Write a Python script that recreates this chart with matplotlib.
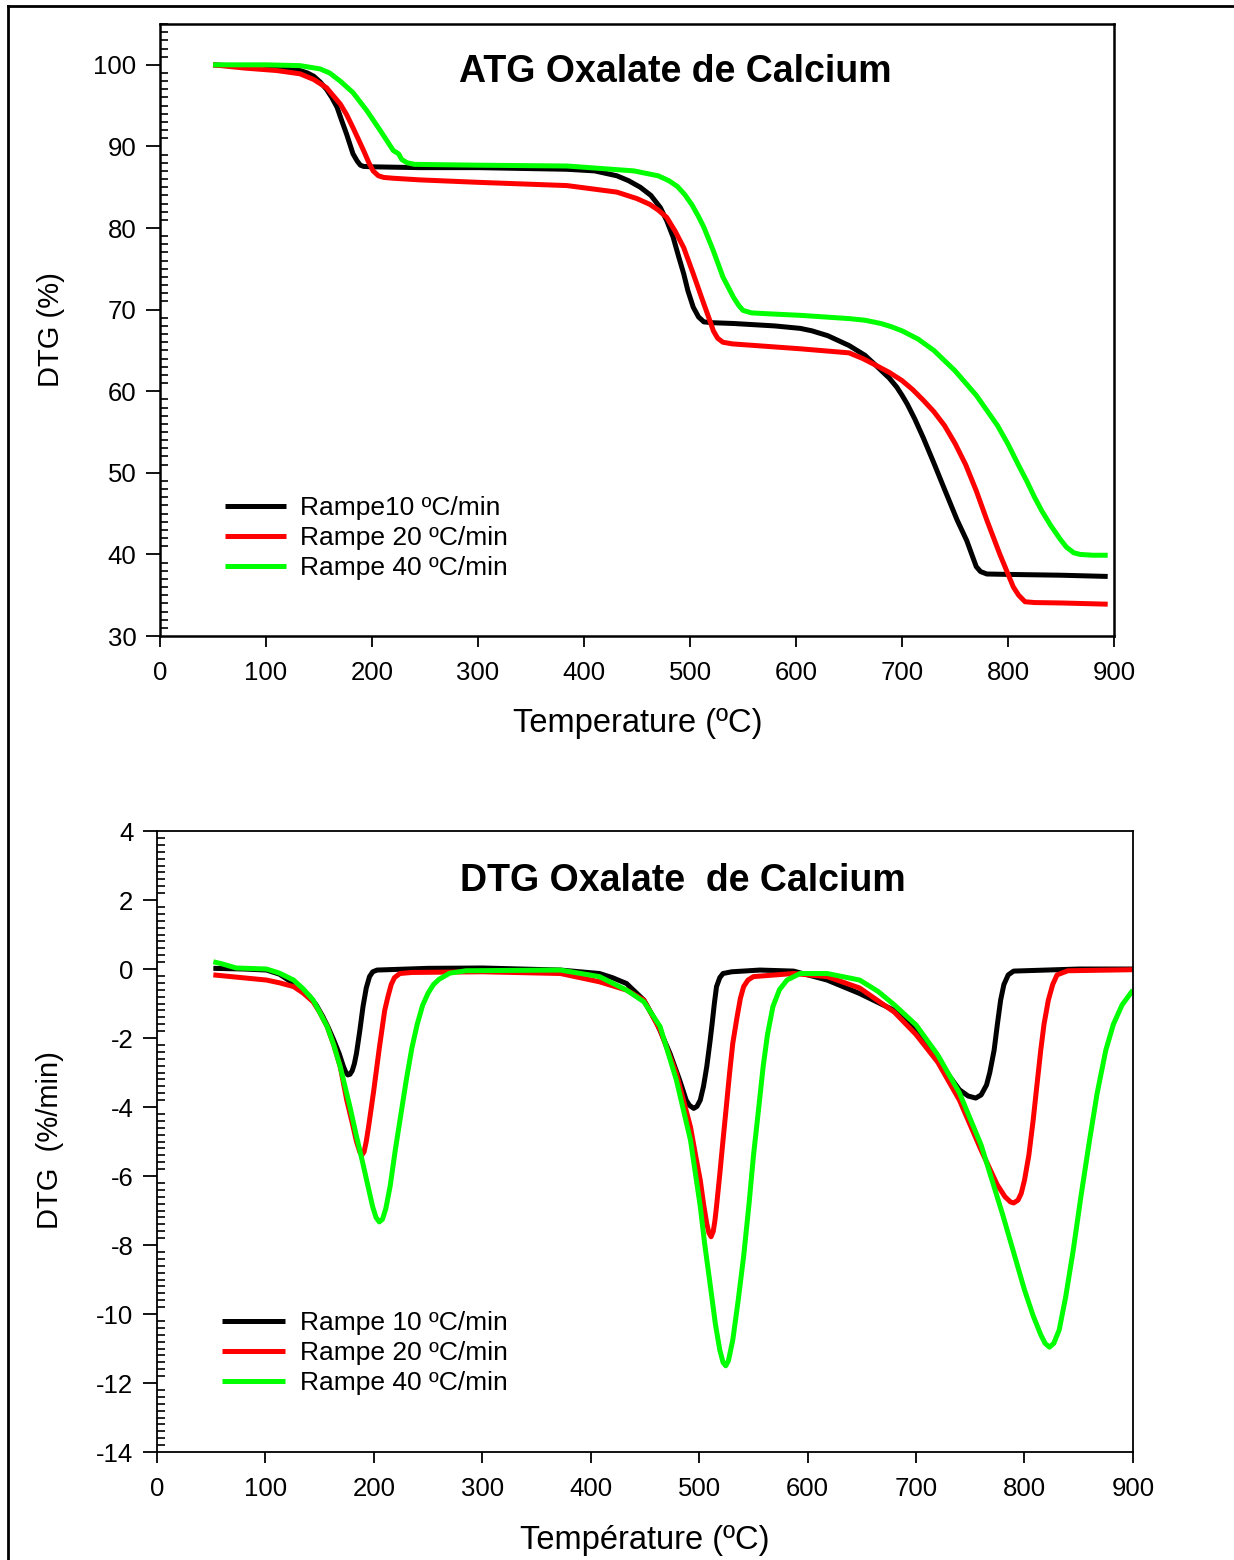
"""
ATG / DTG de l'oxalate de calcium à trois vitesses de chauffe
(valeurs relevées sur la figure d'origine)
"""

import numpy as np
import matplotlib.pyplot as plt
from matplotlib.lines import Line2D
from matplotlib.ticker import MultipleLocator

plt.rcParams['font.family'] = ['Liberation Sans', 'DejaVu Sans']
plt.rcParams['axes.unicode_minus'] = False

# ============================================================
# 0. Données ATG (%)
# ============================================================
atg_t10 = [50, 80, 110, 120, 132, 139, 145, 151, 157, 162, 167, 171, 176, 182, 186,
           189, 192, 200, 245, 300, 384, 410, 431, 442, 453, 463, 472, 478, 484, 489,
           494, 498, 503, 508, 513, 520, 541, 580, 604, 615, 630, 650, 665, 675, 688,
           695, 700, 705, 712, 720, 730, 740, 752, 761, 770, 774, 780, 800, 850, 894]
atg_v10 = [100, 99.8, 99.6, 99.5, 99.3, 99.0, 98.6, 97.9, 97.0, 96.0, 94.8, 93.3, 91.5,
           89.1, 88.2, 87.7, 87.55, 87.5, 87.4, 87.4, 87.2, 87.0, 86.4, 85.8, 85.0,
           84.0, 82.5, 80.9, 78.9, 76.6, 74.4, 72.3, 70.3, 69.1, 68.5, 68.4, 68.3,
           68.0, 67.7, 67.4, 66.8, 65.6, 64.4, 63.2, 61.6, 60.5, 59.5, 58.4, 56.6,
           54.3, 51.2, 48.0, 44.2, 41.7, 38.5, 37.9, 37.6, 37.55, 37.45, 37.3]

atg_t20 = [50, 80, 110, 132, 145, 157, 170, 176, 182, 187, 192, 197, 201, 206, 211,
           220, 245, 300, 384, 431, 450, 462, 470, 478, 486, 494, 503, 513, 518, 522,
           526, 531, 540, 604, 650, 663, 675, 688, 700, 710, 720, 730, 740, 750, 760,
           770, 780, 792, 805, 810, 816, 825, 850, 894]
atg_v20 = [100, 99.6, 99.3, 98.9, 98.2, 97.2, 95.2, 93.9, 92.3, 90.9, 89.5, 88.0, 87.0,
           86.4, 86.2, 86.1, 85.9, 85.6, 85.2, 84.4, 83.6, 82.9, 82.2, 81.3, 79.6,
           77.6, 74.4, 70.7, 68.9, 67.4, 66.5, 66.0, 65.8, 65.2, 64.7, 64.0, 63.2,
           62.3, 61.3, 60.2, 58.9, 57.5, 55.8, 53.6, 51.0, 47.8, 44.2, 40.1, 36.0,
           35.0, 34.2, 34.1, 34.05, 33.9]

atg_t40 = [50, 100, 132, 151, 160, 170, 182, 195, 208, 220, 225, 228, 233, 240, 300,
           384, 447, 470, 480, 488, 495, 502, 508, 513, 522, 531, 541, 546, 550, 558,
           572, 604, 650, 665, 680, 690, 700, 715, 730, 750, 770, 790, 800, 810, 818,
           825, 832, 840, 849, 855, 862, 868, 880, 894]
atg_v40 = [100, 100, 99.9, 99.5, 99.0, 98.0, 96.6, 94.4, 91.9, 89.5, 89.1, 88.4, 88.0,
           87.8, 87.7, 87.6, 87.0, 86.4, 85.8, 85.1, 84.1, 82.8, 81.4, 80.1, 77.2,
           74.0, 71.5, 70.5, 69.9, 69.6, 69.5, 69.3, 68.9, 68.7, 68.3, 67.9, 67.4,
           66.4, 65.0, 62.5, 59.5, 55.8, 53.5, 50.9, 48.9, 47.0, 45.3, 43.6, 41.9,
           40.9, 40.2, 40.0, 39.9, 39.9]

# ============================================================
# 1. Données DTG (%/min)
# ============================================================
dtg_t10 = [52, 80, 101, 113, 126, 135, 141, 147, 153, 158, 163, 168, 172, 174, 176,
           178, 180, 182, 184, 187, 190, 193, 196, 199, 203, 250, 300, 372, 408, 420,
           433, 449, 461, 473, 482, 488, 491, 495, 498, 501, 504, 507, 510, 512, 514,
           516, 519, 522, 530, 556, 587, 618, 648, 680, 700, 720, 740, 748, 755, 760,
           765, 768, 772, 775, 778, 781, 785, 790, 850, 900]
dtg_v10 = [0.02, 0.0, -0.03, -0.15, -0.42, -0.62, -0.8, -1.05, -1.38, -1.7, -2.06,
           -2.45, -2.83, -2.98, -3.07, -3.05, -2.95, -2.75, -2.44, -1.8, -1.09, -0.55,
           -0.22, -0.08, -0.03, 0.02, 0.03, -0.03, -0.13, -0.25, -0.42, -0.9, -1.57,
           -2.44, -3.22, -3.8, -3.95, -4.04, -3.98, -3.8, -3.4, -2.83, -2.1, -1.57,
           -1.0, -0.51, -0.25, -0.13, -0.08, -0.03, -0.06, -0.32, -0.71, -1.2, -1.77,
           -2.64, -3.5, -3.68, -3.74, -3.65, -3.36, -3.0, -2.35, -1.6, -0.9, -0.45,
           -0.17, -0.06, 0.0, 0.0]

dtg_t20 = [52, 101, 113, 126, 135, 144, 150, 157, 163, 169, 175, 180, 184, 187, 189,
           191, 193, 195, 200, 205, 210, 213, 216, 219, 224, 235, 300, 372, 408, 433,
           449, 464, 479, 492, 497, 501, 504, 507, 509, 511, 513, 514.5, 516, 519,
           522, 525, 528, 531, 535, 538, 541, 545, 550, 587, 618, 648, 680, 700, 720,
           740, 760, 775, 782, 787, 790, 794, 797, 800, 804, 808, 811, 815, 818, 822,
           826, 830, 840, 900]
dtg_v20 = [-0.17, -0.32, -0.4, -0.51, -0.7, -0.95, -1.25, -1.67, -2.2, -2.83, -3.8,
           -4.45, -5.0, -5.3, -5.39, -5.3, -5.0, -4.6, -3.5, -2.3, -1.2, -0.8, -0.45,
           -0.25, -0.13, -0.1, -0.08, -0.13, -0.37, -0.61, -0.9, -1.77, -3.03, -4.58,
           -5.45, -6.12, -6.8, -7.38, -7.65, -7.76, -7.6, -7.3, -6.88, -5.95, -4.96,
           -4.0, -3.03, -2.15, -1.38, -0.85, -0.51, -0.32, -0.22, -0.13, -0.22, -0.55,
           -1.25, -1.9, -2.7, -3.8, -5.25, -6.26, -6.6, -6.75, -6.78, -6.7, -6.5,
           -6.12, -5.4, -4.38, -3.5, -2.35, -1.6, -0.9, -0.45, -0.17, -0.05, -0.02]

dtg_t40 = [52, 60, 73, 101, 113, 126, 135, 144, 150, 157, 163, 169, 178, 184, 190,
           195, 199, 202, 205, 208, 211, 215, 220, 225, 230, 235, 240, 245, 250, 255,
           260, 270, 285, 372, 408, 433, 449, 464, 479, 492, 501, 505, 510, 515, 519,
           522, 524.5, 527, 531, 536, 541, 546, 550, 555, 559, 563, 568, 574, 581,
           593, 618, 648, 665, 680, 700, 720, 740, 760, 780, 800, 808, 815, 819, 823,
           827, 832, 838, 845, 852, 860, 867, 875, 882, 890, 900]
dtg_v40 = [0.21, 0.15, 0.03, 0.0, -0.12, -0.32, -0.58, -0.9, -1.25, -1.67, -2.2,
           -2.83, -4.0, -4.85, -5.65, -6.35, -6.9, -7.2, -7.33, -7.25, -6.95, -6.3,
           -5.2, -4.2, -3.2, -2.3, -1.6, -1.05, -0.7, -0.45, -0.3, -0.12, -0.05,
           -0.03, -0.22, -0.61, -0.95, -1.67, -3.22, -4.96, -6.88, -7.95, -9.11,
           -10.3, -11.04, -11.4, -11.5, -11.35, -10.75, -9.6, -8.33, -6.8, -5.43,
           -4.0, -2.83, -1.9, -1.09, -0.6, -0.32, -0.13, -0.13, -0.32, -0.65, -1.04,
           -1.62, -2.49, -3.59, -5.1, -7.13, -9.3, -10.05, -10.6, -10.85, -10.96,
           -10.85, -10.46, -9.5, -8.14, -6.6, -4.96, -3.6, -2.35, -1.6, -1.04, -0.61]

couleurs = ['black', '#ff0000', '#00ff00']
labels_atg = ['Rampe10 ºC/min', 'Rampe 20 ºC/min', 'Rampe 40 ºC/min']
labels_dtg = ['Rampe 10 ºC/min', 'Rampe 20 ºC/min', 'Rampe 40 ºC/min']

LW = 3.6
TICK_FS = 18.5
LABEL_FS = 23.5
YLABEL_FS = 21
TITLE_FS = 27
LEG_FS = 19


def style_axes(ax, minor_step, spine_lw):
    for s in ax.spines.values():
        s.set_linewidth(spine_lw)
    ax.set_xticks(np.arange(0, 901, 100))
    ax.yaxis.set_minor_locator(MultipleLocator(minor_step))
    ax.tick_params(axis='both', which='major', direction='out', length=10,
                   width=1.3, labelsize=TICK_FS, top=False, right=False)
    ax.tick_params(axis='x', which='major', length=8, pad=10)
    ax.tick_params(axis='y', which='major', pad=7)
    ax.tick_params(axis='y', which='minor', direction='in', length=6, width=1.2,
                   right=False)


fig = plt.figure(figsize=(12.34, 15.6), dpi=100)

# ============================================================
# 2. ATG
# ============================================================
ax1 = fig.add_axes([0.1297, 0.5923, 0.7731, 0.3923])
for t, v, c, lab in zip([atg_t10, atg_t20, atg_t40], [atg_v10, atg_v20, atg_v40],
                        couleurs, labels_atg):
    ax1.plot(t, v, color=c, lw=LW, label=lab, solid_capstyle='butt',
             solid_joinstyle='round')
ax1.set_xlim(0, 900)
ax1.set_ylim(30, 105)
ax1.set_yticks(np.arange(30, 101, 10))
style_axes(ax1, 1, 1.8)
ax1.set_xlabel('Temperature (ºC)', fontsize=LABEL_FS)
ax1.xaxis.set_label_coords(0.501, -0.117)
ax1.set_ylabel('DTG (%)', fontsize=YLABEL_FS)
ax1.yaxis.set_label_coords(-0.1, 0.5)
ax1.text(0.540, 0.922, 'ATG Oxalate de Calcium', transform=ax1.transAxes,
         ha='center', va='center', fontsize=TITLE_FS, fontweight='bold')
ax1.legend(loc='upper left', bbox_to_anchor=(0.068, 0.228), frameon=False,
           fontsize=LEG_FS, handlelength=2.3, handletextpad=0.55,
           labelspacing=0.22, borderpad=0, borderaxespad=0)

# ============================================================
# 3. DTG
# ============================================================
ax2 = fig.add_axes([0.1272, 0.0692, 0.7909, 0.3981])
for t, v, c, lab in zip([dtg_t10, dtg_t20, dtg_t40], [dtg_v10, dtg_v20, dtg_v40],
                        couleurs, labels_dtg):
    ax2.plot(t, v, color=c, lw=LW, label=lab, solid_capstyle='butt',
             solid_joinstyle='round')
ax2.set_xlim(0, 900)
ax2.set_ylim(-14, 4)
ax2.set_yticks(np.arange(-14, 5, 2))
style_axes(ax2, 0.2, 1.3)
ax2.set_xlabel('Température (ºC)', fontsize=LABEL_FS)
ax2.xaxis.set_label_coords(0.5, -0.117)
ax2.set_ylabel('DTG  (%/min)', fontsize=YLABEL_FS)
ax2.yaxis.set_label_coords(-0.095, 0.502)
ax2.text(0.539, 0.92, 'DTG Oxalate  de Calcium', transform=ax2.transAxes,
         ha='center', va='center', fontsize=TITLE_FS, fontweight='bold')
ax2.legend(loc='upper left', bbox_to_anchor=(0.0666, 0.2265), frameon=False,
           fontsize=LEG_FS, handlelength=2.4, handletextpad=0.55,
           labelspacing=0.22, borderpad=0, borderaxespad=0)

# cadre extérieur (bords gauche et haut visibles)
x0 = 8 / 1234
y0 = 1 - 6 / 1560
fig.add_artist(Line2D([x0, x0], [0, y0], transform=fig.transFigure, color='black', lw=2))
fig.add_artist(Line2D([x0, 1], [y0, y0], transform=fig.transFigure, color='black', lw=2))

fig.savefig('out.png', dpi=100, facecolor='white')
